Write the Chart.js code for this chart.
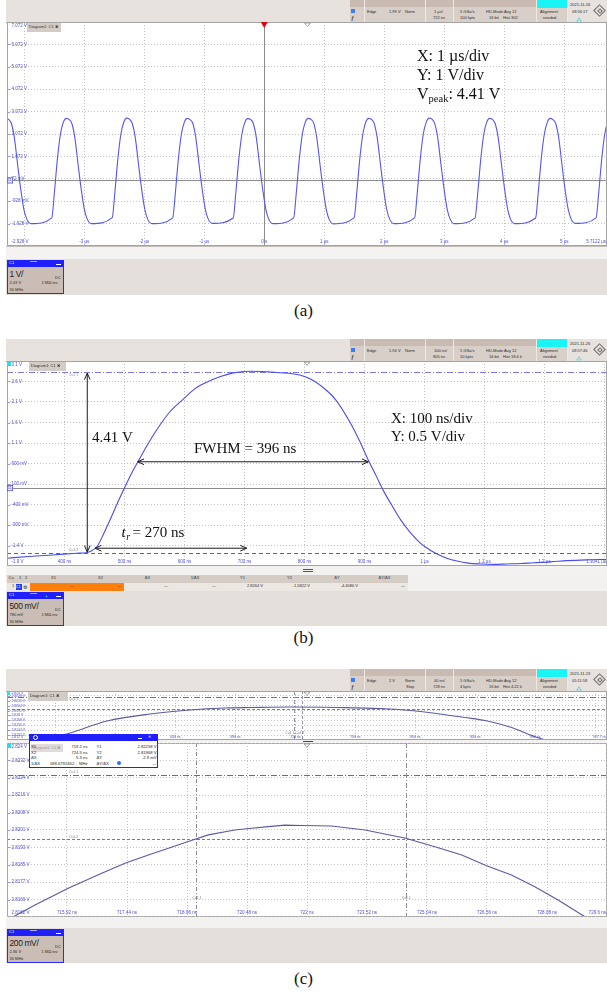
<!DOCTYPE html>
<html><head><meta charset="utf-8">
<title>Oscilloscope captures (a)(b)(c)</title>
<script src="https://cdn.jsdelivr.net/npm/chart.js@4.4.1/dist/chart.umd.min.js"></script>
<style>
html,body{margin:0;padding:0;background:#ffffff;}
body{width:607px;height:997px;position:relative;overflow:hidden;font-family:"Liberation Sans",Arial,sans-serif;}
div.b,div.t{position:absolute;}
div.t{white-space:nowrap;color:#2b2b2b;}
canvas{position:absolute;}
</style></head><body>
<script>
// ================= DATA =================
// Panel (a): 1 µs/div, 1 V/div
const aTimeUs = [
 -4.356,-4.306,-4.256,-4.216,-4.166,-4.106,-4.056,-4.006,-3.956,-3.886,
 -3.542,-3.498,-3.448,-3.398,-3.348,-3.298,-3.248,-3.208,-3.158,-3.098,-3.048,-2.998,-2.948,-2.878,
 -2.534,-2.490,-2.440,-2.390,-2.340,-2.290,-2.240,-2.200,-2.150,-2.090,-2.040,-1.990,-1.940,-1.870,
 -1.526,-1.482,-1.432,-1.382,-1.332,-1.282,-1.232,-1.192,-1.142,-1.082,-1.032,-0.982,-0.932,-0.862,
 -0.518,-0.474,-0.424,-0.374,-0.324,-0.274,-0.224,-0.184,-0.134,-0.074,-0.024,0.026,0.076,0.146,
 0.490,0.534,0.584,0.634,0.684,0.734,0.784,0.824,0.874,0.934,0.984,1.034,1.084,1.154,
 1.498,1.542,1.592,1.642,1.692,1.742,1.792,1.832,1.882,1.942,1.992,2.042,2.092,2.162,
 2.506,2.550,2.600,2.650,2.700,2.750,2.800,2.840,2.890,2.950,3.000,3.050,3.100,3.170,
 3.514,3.558,3.608,3.658,3.708,3.758,3.808,3.848,3.898,3.958,4.008,4.058,4.108,4.178,
 4.522,4.566,4.616,4.666,4.716,4.766,4.816,4.856,4.906,4.966,5.016,5.066,5.116,5.186,
 5.530,5.574,5.624,5.674,5.724,5.774
];
const aVolt = [
 2.60,2.77,2.71,2.55,1.92,0.60,-0.45,-1.30,-1.74,-1.93,
 -1.67,-0.55,0.95,2.05,2.60,2.77,2.71,2.55,1.92,0.60,-0.45,-1.30,-1.74,-1.93,
 -1.66,-0.54,0.96,2.06,2.61,2.78,2.71,2.54,1.91,0.59,-0.46,-1.31,-1.75,-1.93,
 -1.67,-0.56,0.94,2.05,2.60,2.77,2.70,2.55,1.92,0.61,-0.45,-1.30,-1.74,-1.92,
 -1.68,-0.55,0.95,2.04,2.59,2.76,2.71,2.55,1.93,0.60,-0.44,-1.29,-1.74,-1.93,
 -1.67,-0.55,0.95,2.05,2.60,2.77,2.71,2.56,1.92,0.60,-0.45,-1.30,-1.75,-1.94,
 -1.66,-0.54,0.96,2.05,2.61,2.77,2.71,2.55,1.91,0.59,-0.46,-1.31,-1.74,-1.93,
 -1.67,-0.55,0.95,2.06,2.60,2.78,2.72,2.55,1.92,0.60,-0.45,-1.30,-1.74,-1.93,
 -1.67,-0.56,0.94,2.05,2.60,2.77,2.71,2.54,1.92,0.61,-0.44,-1.30,-1.75,-1.93,
 -1.68,-0.55,0.95,2.04,2.59,2.77,2.70,2.55,1.93,0.60,-0.45,-1.29,-1.74,-1.92,
 -1.67,-0.55,0.95,2.05,2.60,2.77
];
const aXRangeUs = [-4.2878, 5.7122];
const aYRangeV = [-2.928, 7.072];
const aXGridUs = [-4,-3,-2,-1,0,1,2,3,4,5];
const aXTickUs = [-3,-2,-1,0,1,2,3,4,5,5.7122];
const aXTickLabels = ['-3 µs','-2 µs','-1 µs','0 s','1 µs','2 µs','3 µs','4 µs','5 µs','5.7122 µs'];
const aYTickV = [7.072,6.072,5.072,4.072,3.072,2.072,1.072,0.072,-0.928,-1.928,-2.928];
const aYTickLabels = ['7.072 V','6.072 V','5.072 V','4.072 V','3.072 V','2.072 V','1.072 V','72 mV','-928 mV','-1.928 V','-2.928 V'];

// Panel (b): 100 ns/div, 0.5 V/div
const bTimeNs = [304,340,380,420,438,446,454,465,476,488,501,512,523,538,554,575,598,617,637,660,
 681,709,730,753,772,792,810,826,851,876,892,907,920,932,946,960,976,993,1007,1021,
 1037,1054,1073,1093,1115,1137,1160,1182,1210,1237,1270,1304.1];
const bVolt = [-1.71,-1.67,-1.63,-1.59,-1.57,-1.52,-1.43,-1.12,-0.77,-0.37,0.04,0.37,0.66,1.05,1.43,1.85,2.17,2.42,2.58,2.72,
 2.81,2.85,2.845,2.82,2.80,2.76,2.66,2.51,2.17,1.60,1.14,0.66,0.28,-0.08,-0.43,-0.77,-1.08,-1.34,-1.49,-1.61,
 -1.71,-1.78,-1.83,-1.85,-1.86,-1.85,-1.84,-1.82,-1.80,-1.77,-1.75,-1.74];
const bXRangeNs = [304.1, 1304.1];
const bYRangeV = [-1.9, 3.1];
const bXGridNs = [400,500,600,700,800,900,1000,1100,1200,1300];
const bXTickNs = [400,500,600,700,800,900,1000,1100,1200,1304.1];
const bXTickLabels = ['400 ns','500 ns','600 ns','700 ns','800 ns','900 ns','1 µs','1.1 µs','1.2 µs','1.3041 µs'];
const bYTickV = [3.1,2.6,2.1,1.6,1.1,0.6,0.1,-0.4,-0.9,-1.4,-1.9];
const bYTickLabels = ['3.1 V','2.6 V','2.1 V','1.6 V','1.1 V','600 mV','100 mV','-400 mV','-900 mV','-1.4 V','-1.9 V'];
const bCursorV = [2.8264, -1.5822];

// Panel (c): zoomed view (main) and overview
const cTimeNs = [714.40,714.56,715.11,715.95,716.80,717.39,717.98,718.49,718.99,719.50,720.17,720.60,721.02,
 721.44,721.86,722.62,723.47,724.50,725.24,725.92,726.55,727.18,727.77,728.36,729.04,729.20];
const cVolt = [2.81604,2.81621,2.81674,2.81749,2.81816,2.81861,2.81898,2.81928,2.81958,2.81988,2.82010,2.82018,2.82025,
 2.82032,2.82030,2.82028,2.82010,2.81973,2.81935,2.81898,2.81850,2.81808,2.81756,2.81696,2.81621,2.81605];
const cXRangeNs = [714.4, 729.6];
const cYRangeV = [2.8162, 2.824];
const cXGridNs = [715.92,717.44,718.96,720.48,722,723.52,725.04,726.56,728.08];
const cXTickNs = [715.92,717.44,718.96,720.48,722,723.52,725.04,726.56,728.08,729.6];
const cXTickLabels = ['715.92 ns','717.44 ns','718.96 ns','720.48 ns','722 ns','723.52 ns','725.04 ns','726.56 ns','728.08 ns','729.6 ns'];
const cYTickV = [2.824,2.82322,2.82244,2.82166,2.82088,2.8201,2.81932,2.81854,2.81776,2.81698,2.8162];
const cYTickLabels = ['2.824 V','2.8232 V','2.8224 V','2.8216 V','2.8208 V','2.8201 V','2.8193 V','2.8185 V','2.8177 V','2.8169 V','2.8162 V'];
const cCursorNs = [719.2, 724.5];
const cCursorV = [2.82258, 2.81968];

const ovTimeNs = [540.0,553.0,569.7,594.4,623.0,649.7,672.4,691.0,716.4,747.7,776.4,796.4,816.4,833.0,846.4,863.0,878.4,888.4];
const ovVolt = [2.8108,2.8120,2.81371,2.81665,2.81837,2.81935,2.81984,2.81996,2.82008,2.81996,2.81971,2.81922,2.81837,2.81751,2.81678,2.81518,2.81298,2.81176];
const ovXRangeNs = [527.7, 927.7];
const ovYRangeV = [2.812, 2.824];
const ovXGridNs = [560,600,640,680,720,760,800,840,880,920];
const ovXTickNs = [560,600,640,680,720,760,800,840,880,927.7];
const ovXTickLabels = ['560 ns','600 ns','640 ns','680 ns','720 ns','760 ns','800 ns','840 ns','880 ns','927.7 ns'];
const ovYTickV = [2.824,2.8228,2.8216,2.8204,2.8192,2.818,2.8168,2.8156,2.8144,2.8132,2.812];
const ovYTickLabels = ['2.824 V','2.8228 V','2.8216 V','2.8204 V','2.8192 V','2.818 V','2.8168 V','2.8156 V','2.8144 V','2.8132 V','2.812 V'];

// ================= HELPERS (HTML chrome) =================
function mk(cls, x, y, w, h, css, text) {
  const d = document.createElement('div');
  d.className = cls;
  let s = 'left:' + x + 'px;top:' + y + 'px;';
  if (w != null) s += 'width:' + w + 'px;';
  if (h != null) s += 'height:' + h + 'px;';
  d.style.cssText = s + (css || '');
  if (text != null) d.textContent = text;
  document.body.appendChild(d);
  return d;
}
function R(x, y, w, h, bg, css) { return mk('b', x, y, w, h, 'background:' + bg + ';' + (css || '')); }
function T(x, yc, s, size, css) { return mk('t', x, yc - size * 0.6, null, null, 'font-size:' + size + 'px;line-height:' + (size * 1.2) + 'px;' + (css || ''), s); }
function TR(xr, yc, s, size, css) { return mk('t', xr - 120, yc - size * 0.6, 120, null, 'text-align:right;font-size:' + size + 'px;line-height:' + (size * 1.2) + 'px;' + (css || ''), s); }
function TC(xc, yc, s, size, css) { return mk('t', xc - 80, yc - size * 0.6, 160, null, 'text-align:center;font-size:' + size + 'px;line-height:' + (size * 1.2) + 'px;' + (css || ''), s); }

function toolbar(top, tr, tb, acq, date) {
  R(6, top, 601, 22, '#e7e2dd');
  R(350, top, 186, 7, '#c9bab2');
  R(350, top + 7, 186, 15, '#d9cfc9');
  R(536, top, 31, 8, '#19f5f5');
  R(536, top + 8, 31, 14, '#d9cfc9');
  [364, 425, 453, 536, 567].forEach(function (x) { R(x, top, 1, 22, '#eee9e5'); });
  R(6, top + 22, 601, 1, '#b5ada7');
  R(351, top + 9, 4, 4, '#3a7cff');
  T(351, top + 17.5, 'ƒ', 5, 'font-style:italic;font-weight:bold;color:#333');
  const fs = 4, r1 = top + 12.3, r2 = top + 18.5;
  T(367, r1, tr[0], fs); T(389, r1, tr[1], fs); T(405, r1, tr[2], fs); if (tr[3]) T(406, r2, tr[3], fs);
  T(434, r1, tb[0], fs); T(433, r2, tb[1], fs);
  T(460, r1, acq[0], fs); T(460, r2, acq[1], fs);
  T(486, r1, acq[2], fs); T(489, r2, acq[3], fs);
  T(504, r1, acq[4], fs); T(503, r2, acq[5], fs);
  T(540, r1, 'Alignment', fs); T(543, r2, 'needed', fs);
  T(570, top + 5.5, date[0], fs); T(572, top + 12.3, date[1], fs);
  T(576, top + 18.5, '⁂', 5, 'color:#00c8d8');
  R(595, top + 6, 9, 9, 'transparent', 'border:1.3px solid #6a6a6a;transform:rotate(45deg);box-sizing:border-box');
  R(597.5, top + 8.5, 4, 4, 'transparent', 'border:1px solid #6a6a6a;transform:rotate(45deg);box-sizing:border-box');
}
function infoBox(top, big, offs) {
  R(7, top, 57, 34, '#cabdb5', 'border:1px solid #2a2aff;box-sizing:border-box');
  R(7, top, 57, 6.5, '#2020ff');
  T(9, top + 3.3, 'C1', 4, 'color:#fff');
  R(56, top + 3.5, 5, 1, '#fff');
  R(30, top + 0.6, 7, 0.8, '#a6aaff');
  T(9.5, top + 14.3, big, 8.5, 'color:#222;letter-spacing:-0.4px');
  T(55, top + 18.5, 'DC', 4);
  T(9.5, top + 23.8, offs, 4);
  T(41.5, top + 23.8, '1 MΩ inv', 4);
  T(9.5, top + 30.3, '30 MHz', 4);
}
function tab(x, y, w) {
  R(x, y, w, 9, '#d3cbc5');
  T(x + 2, y + 4.6, 'Diagram1: C1 ✖', 4, 'color:#333');
}
function caption(yc, s) { TC(303.5, yc, s, 17, 'font-family:"Liberation Serif","Times New Roman",serif;color:#111'); }

// ================= CHART PLUMBING =================
const scopeCfg = {};
function hLine(ctx, a, py, color, dash) { ctx.save(); ctx.strokeStyle = color; ctx.lineWidth = 1; ctx.setLineDash(dash); const p = Math.round(py) + 0.5; ctx.beginPath(); ctx.moveTo(a.left, p); ctx.lineTo(a.right, p); ctx.stroke(); ctx.restore(); }
function vLine(ctx, a, px, color, dash) { ctx.save(); ctx.strokeStyle = color; ctx.lineWidth = 1; ctx.setLineDash(dash); const p = Math.round(px) + 0.5; ctx.beginPath(); ctx.moveTo(p, a.top); ctx.lineTo(p, a.bottom); ctx.stroke(); ctx.restore(); }
function arrow(ctx, x1, y1, x2, y2) {
  ctx.save(); ctx.strokeStyle = '#1a1a1a'; ctx.lineWidth = 1; ctx.setLineDash([]);
  ctx.beginPath(); ctx.moveTo(x1, y1); ctx.lineTo(x2, y2); ctx.stroke();
  const L = 7, s = 0.42;
  [[x2, y2, Math.atan2(y2 - y1, x2 - x1)], [x1, y1, Math.atan2(y1 - y2, x1 - x2)]].forEach(function (h) {
    ctx.beginPath();
    ctx.moveTo(h[0] - L * Math.cos(h[2] - s), h[1] - L * Math.sin(h[2] - s));
    ctx.lineTo(h[0], h[1]);
    ctx.lineTo(h[0] - L * Math.cos(h[2] + s), h[1] - L * Math.sin(h[2] + s));
    ctx.stroke();
  });
  ctx.restore();
}
function posMarker(ctx, px, top) { ctx.save(); ctx.strokeStyle = '#8e8e8e'; ctx.lineWidth = 0.8; ctx.beginPath(); ctx.moveTo(px - 3, top + 1); ctx.lineTo(px + 3, top + 1); ctx.lineTo(px, top + 4.5); ctx.closePath(); ctx.stroke(); ctx.restore(); }
function gndMarker(ctx, a, py) {
  ctx.save(); ctx.fillStyle = '#e8e8ff'; ctx.strokeStyle = '#4444dd'; ctx.lineWidth = 0.7;
  ctx.fillRect(a.left, py - 3, 6, 6); ctx.strokeRect(a.left + 0.35, py - 2.65, 5.3, 5.3);
  ctx.fillStyle = '#3333cc'; ctx.font = '3px "Liberation Sans"'; ctx.textAlign = 'left'; ctx.textBaseline = 'middle';
  ctx.fillText('C1', a.left + 0.8, py); ctx.restore();
}
function tiny(ctx, s, x, y, color) { ctx.save(); ctx.font = '3.4px "Liberation Sans"'; ctx.fillStyle = color || '#7a7a7a'; ctx.textAlign = 'left'; ctx.textBaseline = 'middle'; ctx.fillText(s, x, y); ctx.restore(); }

const scopePlugin = {
  id: 'scopeDeco',
  beforeDatasetsDraw(chart) {
    const o = scopeCfg[chart.canvas.id]; if (!o) return;
    const ctx = chart.ctx, a = chart.chartArea, x = chart.scales.x, y = chart.scales.y;
    ctx.save();
    (o.darkX || []).forEach(function (v) { vLine(ctx, a, x.getPixelForValue(v), '#8c8c8c', []); });
    (o.darkY || []).forEach(function (v) { hLine(ctx, a, y.getPixelForValue(v), '#8c8c8c', []); });
    if (o.under) o.under(chart, ctx, a, x, y);
    ctx.restore();
  },
  afterDatasetsDraw(chart) {
    const o = scopeCfg[chart.canvas.id]; if (!o) return;
    const ctx = chart.ctx, a = chart.chartArea, x = chart.scales.x, y = chart.scales.y;
    ctx.save();
    ctx.font = o.font; ctx.fillStyle = o.labelColor; ctx.textBaseline = 'middle';
    ctx.strokeStyle = o.labelColor; ctx.lineWidth = 0.6;
    o.yVals.forEach(function (v, i) {
      let p = y.getPixelForValue(v);
      ctx.beginPath(); ctx.moveTo(a.left, Math.round(p) + 0.5); ctx.lineTo(a.left + 3, Math.round(p) + 0.5); ctx.stroke();
      p = Math.min(Math.max(p, a.top + o.edge), a.bottom - o.edge);
      ctx.textAlign = 'left';
      ctx.fillText(o.yText[i], a.left + 4.5, p);
    });
    o.xVals.forEach(function (v, i) {
      const t = o.xText[i]; const w = ctx.measureText(t).width;
      let p = x.getPixelForValue(v);
      p = Math.min(Math.max(p, a.left + w / 2 + 1), a.right - w / 2 - 1);
      ctx.textAlign = 'center';
      ctx.fillText(t, p, a.bottom - o.edge);
    });
    ctx.strokeStyle = o.border || '#a4a4a4'; ctx.lineWidth = 1; ctx.setLineDash([]);
    ctx.strokeRect(a.left + 0.5, a.top + 0.5, a.width - 1, a.height - 1);
    if (o.over) o.over(chart, ctx, a, x, y);
    ctx.restore();
  }
};

function scopeChart(id, rect, xRange, yRange, xGrid, yGrid, xs, ys, color, mono, cfg) {
  const c = document.createElement('canvas');
  c.id = id; c.width = rect.w; c.height = rect.h;
  c.style.cssText = 'left:' + rect.l + 'px;top:' + rect.t + 'px;width:' + rect.w + 'px;height:' + rect.h + 'px;';
  document.body.appendChild(c);
  scopeCfg[id] = cfg;
  return new Chart(c, {
    type: 'line',
    data: { datasets: [{ data: xs.map(function (t, i) { return { x: t, y: ys[i] }; }), borderColor: color, borderWidth: 1.1,
      pointRadius: 0, fill: false, tension: 0, cubicInterpolationMode: mono ? 'monotone' : 'default' }] },
    options: {
      responsive: false, animation: false, devicePixelRatio: 1, layout: { padding: 0 },
      plugins: { legend: { display: false }, tooltip: { enabled: false } },
      events: [],
      scales: {
        x: { type: 'linear', min: xRange[0], max: xRange[1],
             afterBuildTicks: function (s) { s.ticks = xGrid.map(function (v) { return { value: v }; }); },
             ticks: { display: false }, grid: { color: '#c2c2c2', lineWidth: 1, drawTicks: false },
             border: { display: false, dash: [1, 2] } },
        y: { type: 'linear', min: yRange[0], max: yRange[1],
             afterBuildTicks: function (s) { s.ticks = yGrid.map(function (v) { return { value: v }; }); },
             ticks: { display: false }, grid: { color: '#c2c2c2', lineWidth: 1, drawTicks: false },
             border: { display: false, dash: [1, 2] } }
      }
    },
    plugins: [scopePlugin]
  });
}
const LBL = '4.5px "Liberation Sans", Arial, sans-serif';
const LBLC = '#5151d6';

// ================= PANEL (a) =================
toolbar(0, ['Edge', '1.99 V', 'Norm', ''], ['1 µs/', '722 ns'], ['5 GSa/s', '100 kpts', 'HD-Mode', '16 bit', 'Avg 12', 'Hist 302'], ['2021-11-26', '08:56:17']);
scopeChart('cA', { l: 7, t: 22, w: 600, h: 224 }, aXRangeUs, aYRangeV, aXGridUs, aYTickV, aTimeUs, aVolt, '#5656f0', true, {
  font: LBL, labelColor: LBLC, edge: 4, yVals: aYTickV, yText: aYTickLabels, xVals: aXTickUs, xText: aXTickLabels,
  darkX: [0], darkY: [0],
  over: function (ch, ctx, a, x, y) {
    const px = x.getPixelForValue(0);
    ctx.fillStyle = '#e6000c'; ctx.beginPath(); ctx.moveTo(px - 3.5, a.top); ctx.lineTo(px + 3.5, a.top); ctx.lineTo(px, a.top + 6); ctx.closePath(); ctx.fill();
    posMarker(ctx, x.getPixelForValue(0.722), a.top);
    gndMarker(ctx, a, y.getPixelForValue(0));
    ctx.fillStyle = '#111'; ctx.textAlign = 'left'; ctx.textBaseline = 'middle';
    const tx = a.left + 410;
    ctx.font = '16px "Liberation Serif", "Times New Roman", serif';
    ctx.fillText('X: 1 µs/div', tx, a.top + 35);
    ctx.fillText('Y: 1 V/div', tx, a.top + 54);
    ctx.fillText('V', tx, a.top + 72.5);
    const w1 = ctx.measureText('V').width;
    ctx.font = '10.5px "Liberation Serif", "Times New Roman", serif';
    ctx.fillText('peak', tx + w1, a.top + 77);
    const w2 = ctx.measureText('peak').width;
    ctx.font = '16px "Liberation Serif", "Times New Roman", serif';
    ctx.fillText(': 4.41 V', tx + w1 + w2, a.top + 72.5);
  }
});
tab(27, 23, 34);
R(6, 246, 601, 13, '#f5f3f1', 'border-top:1px solid #c4bdb8;box-sizing:border-box');
R(6, 259, 601, 36, '#e4dfdb');
infoBox(260, '1 V/', '2.43 V');
caption(311, '(a)');

// ================= PANEL (b) =================
toolbar(339, ['Edge', '1.94 V', 'Norm', ''], ['100 ns/', '805 ns'], ['5 GSa/s', '10 kpts', 'HD-Mode', '16 bit', 'Avg 12', 'Hist 18.6 k'], ['2021-11-26', '08:57:46']);
scopeChart('cB', { l: 7, t: 361, w: 600, h: 205 }, bXRangeNs, bYRangeV, bXGridNs, bYTickV, bTimeNs, bVolt, '#4b4bf2', true, {
  font: LBL, labelColor: LBLC, edge: 4, yVals: bYTickV, yText: bYTickLabels, xVals: bXTickNs, xText: bXTickLabels,
  darkY: [0],
  under: function (ch, ctx, a, x, y) {
    hLine(ctx, a, y.getPixelForValue(bCursorV[0]), '#7b7be8', [6, 2, 1, 2]);
    hLine(ctx, a, y.getPixelForValue(bCursorV[1]), '#6a6a6a', [4, 3]);
    tiny(ctx, 'Cu1.1', a.left + 62, y.getPixelForValue(bCursorV[0]) + 2.5, '#8a8ad8');
    tiny(ctx, 'Cu1.2', a.left + 62, y.getPixelForValue(bCursorV[1]) - 2.5, '#777');
  },
  over: function (ch, ctx, a, x, y) {
    posMarker(ctx, x.getPixelForValue(804.1), a.top);
    gndMarker(ctx, a, y.getPixelForValue(0));
    const ax = x.getPixelForValue(437.9);
    arrow(ctx, ax, y.getPixelForValue(bCursorV[0]) + 1, ax, y.getPixelForValue(bCursorV[1]) - 1);
    const fy = y.getPixelForValue(0.642);
    arrow(ctx, x.getPixelForValue(521.9), fy, x.getPixelForValue(906.3), fy);
    const ty = y.getPixelForValue(-1.466);
    arrow(ctx, x.getPixelForValue(450.8), ty, x.getPixelForValue(703.6), ty);
    ctx.fillStyle = '#111'; ctx.textAlign = 'left'; ctx.textBaseline = 'middle';
    const F = '15px "Liberation Serif", "Times New Roman", serif';
    ctx.font = F;
    ctx.fillText('4.41 V', a.left + 85, a.top + 77);
    ctx.fillText('FWHM = 396 ns', a.left + 187, a.top + 88);
    ctx.fillText('X: 100 ns/div', a.left + 384, a.top + 58);
    ctx.fillText('Y: 0.5 V/div', a.left + 384, a.top + 76);
    ctx.font = 'italic ' + F;
    ctx.fillText('t', a.left + 114.5, a.top + 172);
    const w1 = ctx.measureText('t').width;
    ctx.font = 'italic 10px "Liberation Serif", "Times New Roman", serif';
    ctx.fillText('r', a.left + 114.5 + w1 + 0.5, a.top + 176);
    ctx.font = F;
    ctx.fillText('= 270 ns', a.left + 125.5, a.top + 172);
  }
});
tab(29, 362, 37);
R(7, 362, 4, 4, '#22e0f0');
R(6, 566, 601, 9, '#f4f2f0');
R(303, 569, 10, 0.9, '#555'); R(303, 571.2, 10, 0.9, '#555');
// cursor table
(function () {
  const colX = [7, 30, 77, 124, 171, 219, 266, 313, 361, 408];
  const heads = ['', 'X1', 'X2', 'ΔX', '1/ΔX', 'Y1', 'Y2', 'ΔY', 'ΔY/ΔX'];
  const vals = ['', '—', '—', '—', '—', '2.8264 V', '-1.5822 V', '-4.4086 V', '—'];
  R(6, 575, 601, 16, '#f3f1ef');
  for (let i = 0; i < 9; i++) {
    const x0 = colX[i], w = colX[i + 1] - colX[i];
    R(x0, 575, w - 0.5, 7.5, '#d6ccc6');
    R(x0, 582.5, w - 0.5, 8, (i === 1 || i === 2) ? '#ff7f0a' : '#ebe7e3');
    if (i > 0) {
      TC(x0 + w / 2, 578.8, heads[i], 4);
      TR(x0 + w - 3, 586.6, vals[i], 4);
    }
  }
  T(8.5, 578.8, 'Cu', 4); T(19, 578.8, '1', 4); T(25, 578.8, '2', 4);
  T(12, 586.6, '1', 4); R(15.5, 583.5, 6, 6, '#1f3fff'); T(16, 586.6, 'C1', 3.5, 'color:#fff'); T(22.5, 586.6, '⚙', 5, 'color:#222');
})();
R(6, 591, 601, 35, '#e4dfdb');
infoBox(592, '500 mV/', '780 mV');
T(45, 597, '▲', 3, 'color:#22e0f0');
caption(638, '(b)');

// ================= PANEL (c) =================
toolbar(669, ['Edge', '2 V', 'Norm', 'Stop'], ['40 ns/', '728 ns'], ['5 GSa/s', '4 kpts', 'HD-Mode', '16 bit', 'Avg 12', 'Hist 4.22 k'], ['2021-11-23', '05:11:58']);
scopeChart('cO', { l: 7, t: 691, w: 600, h: 49 }, ovXRangeNs, ovYRangeV, ovXGridNs, ovYTickV, ovTimeNs, ovVolt, '#5a5aa6', true, {
  font: '3.4px "Liberation Sans", Arial, sans-serif', labelColor: LBLC, edge: 2.5, yVals: ovYTickV, yText: ovYTickLabels, xVals: ovXTickNs, xText: ovXTickLabels,
  under: function (ch, ctx, a, x, y) {
    hLine(ctx, a, y.getPixelForValue(cCursorV[0]), '#70709a', [6, 2, 1, 2]);
    hLine(ctx, a, y.getPixelForValue(cCursorV[1]), '#808080', [3, 2]);
    vLine(ctx, a, x.getPixelForValue(cCursorNs[0]), '#9090b0', [4, 2, 1, 2]);
    vLine(ctx, a, x.getPixelForValue(cCursorNs[1]), '#9090b0', [3, 2]);
    tiny(ctx, 'Cu1.1', a.left + 62, y.getPixelForValue(cCursorV[0]) + 2.2);
    tiny(ctx, 'Cu1.1 Cu1.2', x.getPixelForValue(cCursorNs[0]) - 9, a.bottom - 7);
  },
  over: function (ch, ctx, a, x, y) { posMarker(ctx, x.getPixelForValue(727.7), a.top); }
});
tab(28, 692, 40);
R(7, 691, 3, 4, '#22e0f0');
R(6, 740, 601, 3, '#f4f2f0');
R(303, 741, 10, 0.9, '#444');
scopeChart('cM', { l: 7, t: 743, w: 600, h: 174 }, cXRangeNs, cYRangeV, cXGridNs, cYTickV, cTimeNs, cVolt, '#5a5aa2', false, {
  font: LBL, labelColor: LBLC, edge: 4, yVals: cYTickV, yText: cYTickLabels, xVals: cXTickNs, xText: cXTickLabels,
  border: '#a8a8a8',
  under: function (ch, ctx, a, x, y) {
    hLine(ctx, a, y.getPixelForValue(cCursorV[0]), '#6c6c86', [6, 2, 1, 2]);
    hLine(ctx, a, y.getPixelForValue(cCursorV[1]), '#7c7c7c', [3, 2]);
    vLine(ctx, a, x.getPixelForValue(cCursorNs[0]), '#8888a8', [4, 2, 1, 2]);
    vLine(ctx, a, x.getPixelForValue(cCursorNs[1]), '#8888a8', [5, 2, 1, 2]);
    tiny(ctx, 'Cu1.1', a.left + 62, y.getPixelForValue(cCursorV[0]) - 2.5);
    tiny(ctx, 'Cu1.2', a.left + 62, y.getPixelForValue(cCursorV[1]) - 2.5);
    tiny(ctx, 'Cu1.1', x.getPixelForValue(cCursorNs[0]) - 4, a.bottom - 19);
    tiny(ctx, 'Cu1.2', x.getPixelForValue(cCursorNs[1]) - 4, a.bottom - 19);
  },
  over: function (ch, ctx, a, x, y) {
    ctx.save(); ctx.strokeStyle = '#e2c84a'; ctx.lineWidth = 1; ctx.setLineDash([1, 3]);
    ctx.beginPath(); ctx.moveTo(a.left, a.top + 0.5); ctx.lineTo(a.right, a.top + 0.5);
    ctx.moveTo(a.left, a.bottom - 0.5); ctx.lineTo(a.right, a.bottom - 0.5);
    ctx.moveTo(a.right - 0.5, a.top); ctx.lineTo(a.right - 0.5, a.bottom); ctx.stroke(); ctx.restore();
    posMarker(ctx, x.getPixelForValue(722), a.top);
  }
});
R(7, 744, 4, 4, '#22e0f0');
// cursor results pop-up
R(29, 734, 129, 34, '#ffffff', 'border:1px solid #1e1eff;box-sizing:border-box');
R(29, 734, 129, 7, '#1e1eff');
R(32.5, 735, 5, 5, 'transparent', 'border:1px solid #fff;border-radius:50%;box-sizing:border-box');
R(138, 737.6, 4, 0.9, '#fff');
T(148, 737.6, '✕', 4, 'color:#fff');
R(31, 744, 32, 8, 'rgba(200,192,186,0.55)');
T(33, 748, 'Diagram1: C1 ✖', 3.8, 'color:#9a9a9a');
(function () {
  const rows = [['X1', '719.2 ns', 'Y1', '2.82258 V'], ['X2', '724.5 ns', 'Y2', '2.81968 V'], ['ΔX', '5.3 ns', 'ΔY', '-2.9 mV'], ['1/ΔX', '188.6792452... MHz', 'ΔY/ΔX', '—']];
  const ys = [746.7, 752.3, 757.8, 763.3];
  rows.forEach(function (r, i) {
    T(31, ys[i], r[0], 4.2, 'color:#222');
    TR(87.5, ys[i], r[1], 4.2, 'color:#222');
    T(96.5, ys[i], r[2], 4.2, 'color:#222');
    TR(156.5, ys[i], r[3], 4.2, 'color:#222');
  });
  R(116.5, 761.3, 4, 4, '#2a6cff', 'border-radius:50%');
})();
R(6, 917, 601, 11, '#f4f2f0');
R(6, 928, 601, 35, '#e4dfdb');
infoBox(929, '200 mV/', '2.36 V');
caption(979, '(c)');
</script>
</body></html>
